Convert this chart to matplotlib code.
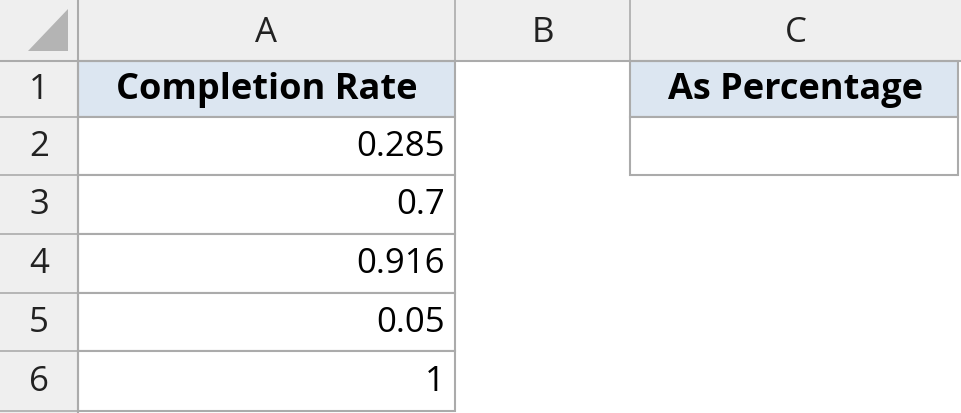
import matplotlib
matplotlib.use("Agg")
import matplotlib.pyplot as plt
from matplotlib.patches import Rectangle, Polygon

columns = ["A", "B", "C"]
rows = ["1", "2", "3", "4", "5", "6"]
header_a = "Completion Rate"
header_c = "As Percentage"
values = ["0.285", "0.7", "0.916", "0.05", "1"]

col_x = [0, 78, 455, 630, 962]
row_y = [0, 62, 118, 176, 235, 294, 352, 412]

fig = plt.figure(figsize=(9.62, 4.14), dpi=100)
ax = fig.add_axes([0, 0, 1, 1])
ax.set_xlim(0, 962); ax.set_ylim(414, 0); ax.axis("off")
fam = ["Open Sans", "DejaVu Sans"]
hdr_bg = "#efefef"; grid = "#ababab"; blue = "#dce6f1"
fs = 25

ax.add_patch(Rectangle((0, 0), 962, row_y[1], color=hdr_bg, lw=0))
ax.add_patch(Rectangle((0, 0), col_x[1], 414, color=hdr_bg, lw=0))
ax.add_patch(Polygon([[68, 10], [68, 52], [28, 52]], color="#b4b4b4", lw=0))
for i, c in enumerate(columns):
    xm = (col_x[i+1] + col_x[i+2]) / 2
    ax.text(xm, 33, c, ha="center", va="center", fontsize=fs, family=fam, color="#222222")
    ax.plot([col_x[i+2]] * 2, [0, row_y[1]], color=grid, lw=1.2)
for j, r in enumerate(rows):
    ym = (row_y[j+1] + row_y[j+2]) / 2
    ax.text(39, ym, r, ha="center", va="center", fontsize=fs, family=fam, color="#222222")
    ax.plot([0, col_x[1]], [row_y[j+2]] * 2, color=grid, lw=1.2)
ax.plot([col_x[1]] * 2, [0, 414], color=grid, lw=1.5)
ax.plot([0, 962], [row_y[1]] * 2, color=grid, lw=1.5)

ax.add_patch(Rectangle((col_x[1], row_y[1]), col_x[2]-col_x[1], row_y[2]-row_y[1], facecolor=blue, edgecolor=grid, lw=1.5))
ax.add_patch(Rectangle((col_x[3], row_y[1]), col_x[4]-col_x[3]-4, row_y[2]-row_y[1], facecolor=blue, edgecolor=grid, lw=1.5))
ax.add_patch(Rectangle((col_x[3], row_y[2]), col_x[4]-col_x[3]-4, row_y[3]-row_y[2], facecolor="white", edgecolor=grid, lw=1.5))
ym1 = (row_y[1] + row_y[2]) / 2
ax.text((col_x[1]+col_x[2])/2, ym1, header_a, ha="center", va="center", fontsize=26, weight="bold", family=fam)
ax.text((col_x[3]+col_x[4])/2, ym1, header_c, ha="center", va="center", fontsize=26, weight="bold", family=fam)
for k, v in enumerate(values):
    y0, y1 = row_y[k+2], row_y[k+3]
    ax.add_patch(Rectangle((col_x[1], y0), col_x[2]-col_x[1], y1-y0, facecolor="white", edgecolor=grid, lw=1.5))
    ax.text(col_x[2]-10, (y0+y1)/2, v, ha="right", va="center", fontsize=fs, family=fam)

fig.savefig("out.png", dpi=100)
